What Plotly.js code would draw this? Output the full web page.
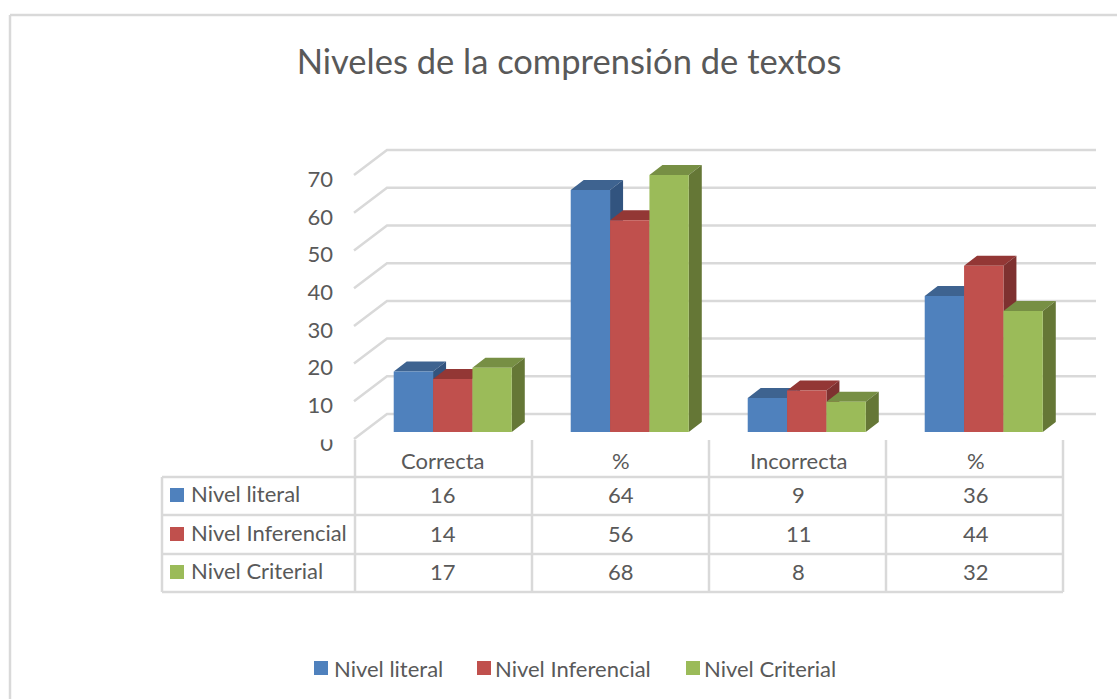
<!DOCTYPE html>
<html><head><meta charset="utf-8">
<script src="https://cdn.plot.ly/plotly-3.0.1.min.js"></script>
<style>html,body{margin:0;padding:0;background:#fff}#c{width:1117px;height:699px}</style>
</head><body><div id="c"></div>
<script>
const categories = ['Correcta','%','Incorrecta','%'];
const seriesNames = ['Nivel literal','Nivel Inferencial','Nivel Criterial'];
const nivelLiteral = [16,64,9,36];
const nivelInferencial = [14,56,11,44];
const nivelCriterial = [17,68,8,32];
const axisTicks = [0,10,20,30,40,50,60,70];
const frontColors = ['#4F81BD','#C0504D','#9BBB59'];
const topColors = ['#3E6390','#933735','#778F44'];
const sideColors = ['#32547F','#7E3130','#657736'];
const gridColor = '#D9D9D9', textColor = '#595959', font = 'Lato, Carlito, Calibri, sans-serif';

const W = 1117, H = 699;
const series = [nivelLiteral, nivelInferencial, nivelCriterial];
const xIdx = categories.map((_, i) => i);
// chart geometry in pixels
const g0 = 452.75, gStep = 177, baseY = 432, unit = 3.78, wallY = 439, wallUnit = 3.77;
const pxX = p => (p - g0) / gStep;
const px = p => p / W, py = p => 1 - p / H;
const depthX = 13 / gStep, depthY = 10 / unit, wallDepth = 25 / wallUnit;
const bargap = 0.333, bw = (1 - bargap) / 3;

const traces = [];
// floor/back wall gridlines on the wall scale
const gx = [], gy = [];
axisTicks.forEach(v => { gx.push(pxX(354), pxX(387), pxX(1096), null); gy.push(v, v + wallDepth, v + wallDepth, null); });
traces.push({x: gx, y: gy, xaxis: 'x', yaxis: 'y', mode: 'lines', line: {color: gridColor, width: 2.5},
  showlegend: false, hoverinfo: 'skip'});
// depth faces
series.forEach((vals, k) => {
  const tx = [], ty = [], sx = [], sy = [];
  vals.forEach((v, i) => {
    const l = i - 1.5 * bw + k * bw, r = l + bw;
    tx.push(l, r, r + depthX, l + depthX, l, null);
    ty.push(v, v, v + depthY, v + depthY, v, null);
    sx.push(r, r + depthX, r + depthX, r, r, null);
    sy.push(0, depthY, v + depthY, v, 0, null);
  });
  [[tx, ty, topColors[k]], [sx, sy, sideColors[k]]].forEach(f => traces.push({
    x: f[0], y: f[1], xaxis: 'x', yaxis: 'y2', mode: 'lines', line: {width: 0}, fill: 'toself',
    fillcolor: f[2], showlegend: false, hoverinfo: 'skip', zorder: 1}));
});
// front faces
series.forEach((vals, k) => traces.push({
  type: 'bar', name: seriesNames[k], x: xIdx, y: vals, xaxis: 'x', yaxis: 'y2', zorder: 2, showlegend: false,
  marker: {color: frontColors[k], line: {width: 0}}
}));

const shapes = [];
const line = (x0, y0, x1, y1, c, w) => shapes.push({type: 'line', xref: 'paper', yref: 'paper',
  x0: px(x0), y0: py(y0), x1: px(x1), y1: py(y1), line: {color: c || gridColor, width: w || 2.5}});
const key = (x, yc, k) => shapes.push({type: 'rect', xref: 'paper', yref: 'paper', x0: px(x), x1: px(x + 14),
  y0: py(yc - 7), y1: py(yc + 7), fillcolor: frontColors[k], line: {width: 0}});
// outer frame
line(10, 15, W, 15); line(10, 15, 10, H);
// data table grid
const colX = [355, 532, 709, 886, 1063], rowY = [477, 515, 554, 592];
colX.forEach(x => line(x, 440, x, 592));
line(162, 477, 162, 592);
rowY.forEach(y => line(162, y, 1063, y));
// keys of the table
const keyY = [495, 534, 572], textY = [494.5, 533, 571.5];
keyY.forEach((y, k) => key(170, y, k));
// the top of the 0 label is cut off in the original
shapes.push({type: 'rect', layer: 'above', xref: 'paper', yref: 'paper', x0: px(316), x1: px(340),
  y0: py(425), y1: py(439.5), fillcolor: '#fff', line: {width: 0}});

const annotations = [];
const note = (t, x, y, a) => annotations.push({text: String(t), xref: 'paper', yref: 'paper', x: px(x), y: py(y),
  xanchor: a || 'center', yanchor: 'middle', showarrow: false, font: {family: font, size: 22, color: textColor}});
const colCenter = [442.5, 621, 798.5, 975.5];
categories.forEach((c, i) => note(c, colCenter[i], 460.5));
series.forEach((vals, k) => {
  note(seriesNames[k], 189, textY[k] - 1, 'left');
  vals.forEach((v, i) => note(v, colCenter[i], textY[k]));
});
// legend below the table
const legendKeyX = [314, 477, 686], legendTextX = [332, 493, 702];
seriesNames.forEach((n, k) => { key(legendKeyX[k], 668, k); note(n, legendTextX[k], 668.5, 'left'); });

const layout = {
  width: W, height: H, autosize: false, margin: {l: 0, r: 0, t: 0, b: 0},
  paper_bgcolor: '#fff', plot_bgcolor: 'rgba(0,0,0,0)', showlegend: false,
  title: {text: 'Niveles de la comprensión de textos', x: 569 / W, y: py(62), xanchor: 'center', yanchor: 'middle',
    font: {family: font, size: 34.5, color: textColor}},
  barmode: 'group', bargap: bargap, bargroupgap: 0,
  xaxis: {range: [pxX(0), pxX(W)], visible: false, fixedrange: true},
  yaxis: {range: [-(H - wallY) / wallUnit, wallY / wallUnit], tickvals: axisTicks, showgrid: false, zeroline: false,
    showline: false, ticks: '', anchor: 'free', position: 333 / W, side: 'left', ticklabelshift: 4,
    tickfont: {family: font, size: 22, color: textColor}, fixedrange: true},
  yaxis2: {range: [-(H - baseY) / unit, baseY / unit], overlaying: 'y', visible: false, fixedrange: true},
  shapes: shapes, annotations: annotations
};
Plotly.newPlot('c', traces, layout, {displayModeBar: false, responsive: false});
</script></body></html>
